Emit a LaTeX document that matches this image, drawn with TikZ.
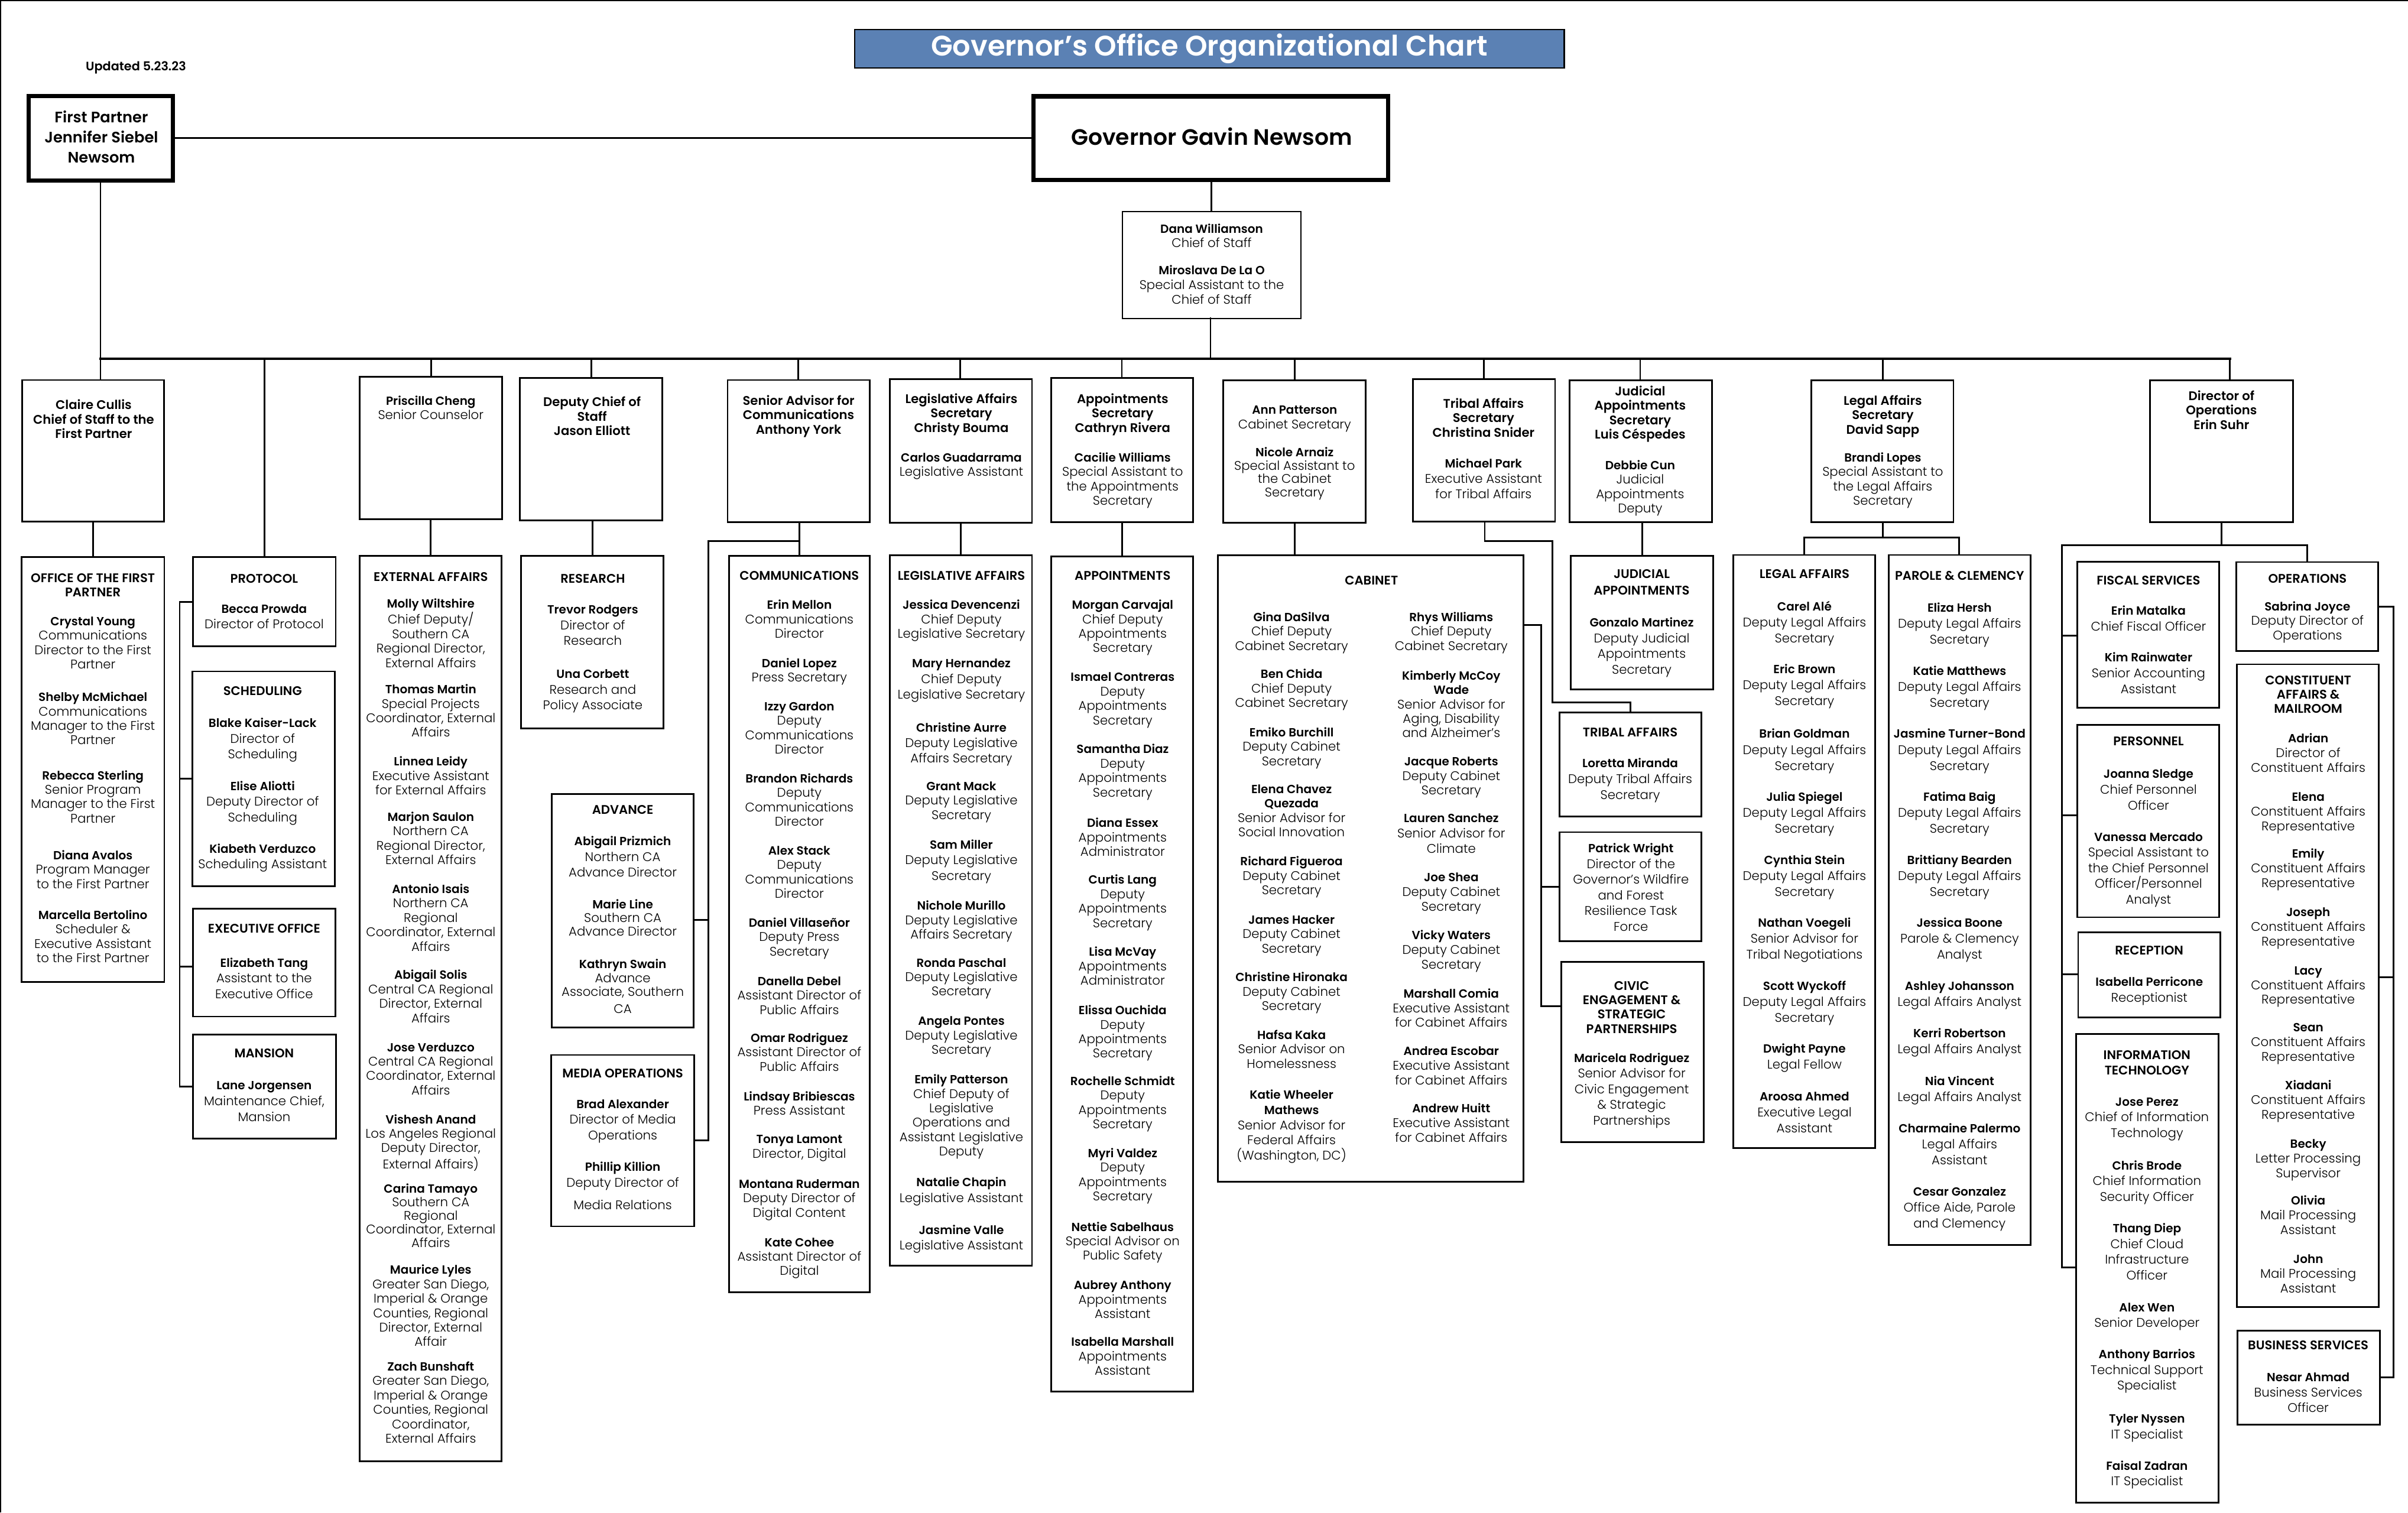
\documentclass[tikz,border=0pt]{standalone}
\usepackage{fontspec}
\setmainfont{Poppins}
\newfontfamily\lightf{Poppins Light}
\newfontfamily\boldf{Poppins SemiBold}
\definecolor{titleblue}{HTML}{5B81B4}
\newcounter{tn}
\newcommand{\bodyfs}{8.2}
\newcommand{\bn}[1]{{\boldf\fontsize{7.7}{\the\baselineskip}\selectfont #1}}
\newcommand{\pers}[5][9.4]{\stepcounter{tn}\node[txt=#1] (t\arabic{tn}) at (#2,#3) {\rule{0pt}{7pt}\bn{#4}\\#5};}
\newcommand{\hdg}[4][9.4]{\stepcounter{tn}\node[txtb=#1] (t\arabic{tn}) at (#2,#3) {\rule{0pt}{7pt}#4};}
\newcommand{\bx}[6][boxn]{\node[#1,minimum width={(#5-#3)*1pt},minimum height={(#6-#4)*1pt}] (#2) at (#3,#4) {};}
\newcommand{\vconn}[4][conn]{\coordinate (tmpc) at (#2,0);\draw[#1] (#3 -| tmpc) -- (#4 -| tmpc);}
\newcommand{\hconn}[4][conn]{\coordinate (tmpc) at (0,#2);\draw[#1] (#3 |- tmpc) -- (#4 |- tmpc);}
\tikzset{
 boxn/.style={draw=black,fill=white,line width=1.1pt,rectangle,anchor=north west,inner sep=0pt,outer sep=0pt},
 boxthin/.style={boxn,line width=0.9pt},
 boxthick/.style={boxn,line width=2.8pt},
 conn/.style={draw=black,line width=1.1pt,line cap=rect},
 connthin/.style={draw=black,line width=0.8pt},
 txt/.style={anchor=north,inner sep=0pt,outer sep=0pt,align=center,yshift=4.3pt,font=\lightf\fontsize{\bodyfs}{#1}\selectfont},
 txtb/.style={anchor=north,inner sep=0pt,outer sep=0pt,align=center,yshift=4.3pt,font=\boldf\fontsize{8.15}{#1}\selectfont},
}
\begin{document}
\begin{tikzpicture}[x=1pt,y=-1pt]
\useasboundingbox (0,0) rectangle (1568,984.95);
\coordinate (frameTL) at (0.4,0.4);
\coordinate (frameTR) at (1568,0.4);
\coordinate (frameBL) at (0.4,984.95);
\draw[line width=0.9pt] (frameBL) -- (frameTL) -- (frameTR);

% ---------- boxes ----------
\node[draw=black,line width=1pt,fill=titleblue,rectangle,anchor=north west,inner sep=0pt,outer sep=0pt,minimum width=462pt,minimum height=25pt,text=white,font=\boldf\fontsize{18.4}{20}\selectfont] (title) at (556.5,19.3) {Governor’s Office Organizational Chart};
\node[anchor=center,inner sep=0pt,font=\boldf\fontsize{8}{9}\selectfont] (upd) at (88.5,44.2) {Updated 5.23.23};
\bx[boxthick]{partner}{18.8}{62.5}{112.7}{117.6}
\bx[boxthick]{gov}{673}{62.7}{904}{117.3}
\bx[boxthin]{cos}{731}{137.9}{847}{207.4}
\bx{claire}{14.4}{247.5}{106.8}{339.8}
\bx{priscilla}{234.3}{245.5}{326.8}{338}
\bx{dcos}{338.5}{246.2}{431.3}{339}
\bx{senior}{473.8}{247.5}{566.2}{340.2}
\bx{legsec}{579.4}{246.8}{672}{340.5}
\bx{appsec}{684.4}{246.2}{777}{340}
\bx{ann}{796.6}{247.8}{889.3}{340.5}
\bx{tribsec}{920}{247}{1012.6}{339.8}
\bx{judsec}{1022}{247.6}{1114.7}{340}
\bx{legalsec}{1179.4}{247.6}{1272}{340}
\bx{director}{1400}{247.6}{1493}{340}

\bx{ofp}{14.1}{362.9}{107}{639.4}
\bx{protocol}{125.8}{362.9}{218.6}{420.7}
\bx{sched}{125.2}{437.2}{218}{577.2}
\bx{execo}{125.5}{591.8}{218.3}{662}
\bx{mansion}{125.8}{673.6}{218.8}{741.5}
\bx{external}{234.2}{362}{326.7}{951.5}
\bx{research}{339.3}{362}{432.1}{474.2}
\bx{advance}{359.4}{517}{451.6}{669}
\bx{media}{359}{687}{452}{798.6}
\bx{comm}{474.6}{362}{566.4}{841.4}
\bx{legis}{579.4}{361.6}{672}{824.3}
\bx{appts}{684.4}{362.5}{777}{906.2}
\bx{cabinet}{793}{361.7}{992}{769.5}
\bx{judapp}{1022.8}{362.1}{1115.4}{449.1}
\bx{tribal}{1015.5}{464}{1108}{531.6}
\bx{wright}{1015.5}{541.9}{1108}{612.9}
\bx{civic}{1016.5}{626.3}{1109.3}{743.9}
\bx{legal}{1128.6}{361.4}{1221}{747.7}
\bx{parole}{1229.8}{361.4}{1322.2}{810.8}
\bx{fiscal}{1352.6}{365.7}{1445}{460.9}
\bx{personnel}{1352.6}{471.9}{1445}{597.3}
\bx{reception}{1353.2}{607}{1445.8}{662.4}
\bx{ittech}{1351.8}{673.3}{1444.6}{978.4}
\bx{operations}{1456.3}{366}{1548.7}{424}
\bx{constit}{1456.6}{432.6}{1549}{851.3}
\bx{business}{1456.8}{866.4}{1549.6}{927.9}

% ---------- connectors ----------
\hconn{89.8}{partner.east}{gov.west}
\vconn[connthin]{788.8}{gov.south}{cos.north}
\coordinate (busL) at (65.4,233.5);
\coordinate (busR) at (1452,233.5);
\draw[conn,line width=1.5pt] (busL) -- (busR);
\vconn{788.2}{cos.south}{busR}
\vconn[connthin]{65.4}{partner.south}{claire.north}
\vconn[conn]{280.8}{busL}{priscilla.north}
\vconn[conn]{385.2}{busL}{dcos.north}
\vconn[conn]{519.8}{busL}{senior.north}
\vconn[conn]{625.3}{busL}{legsec.north}
\vconn[conn]{730.5}{busL}{appsec.north}
\vconn[conn]{843.2}{busL}{ann.north}
\vconn[conn]{966.2}{busL}{tribsec.north}
\vconn[conn]{1068}{busL}{judsec.north}
\vconn[conn]{1226}{busL}{legalsec.north}
\vconn[conn]{1452}{busL}{director.north}
\vconn[conn]{172.3}{busL}{protocol.north}

\vconn{60.5}{claire.south}{ofp.north}
\vconn{280.4}{priscilla.south}{external.north}
\vconn{385.9}{dcos.south}{research.north}
\vconn{520.5}{senior.south}{comm.north}
\vconn{625.6}{legsec.south}{legis.north}
\vconn{730.6}{appsec.south}{appts.north}
\vconn{843.2}{ann.south}{cabinet.north}
\vconn{1069.3}{judsec.south}{judapp.north}

% protocol spine
\coordinate (spA) at (117,391.9);
\coordinate (spB) at (117,707.7);
\draw[conn] (spA) -- (spB);
\hconn{391.9}{spA}{protocol.west}
\hconn{507}{spA}{sched.west}
\hconn{629.4}{spA}{execo.west}
\hconn{707.7}{spA}{mansion.west}

% communications spine
\coordinate (cmA) at (520.5,352.3);
\coordinate (cmB) at (461.3,352.3);
\coordinate (cmC) at (461.3,742.5);
\draw[conn] (cmA) -- (cmB) -- (cmC);
\hconn{598.9}{advance.east}{cmC}
\hconn{742.5}{media.east}{cmC}

% tribal elbow
\coordinate (trA) at (966.8,352.2);
\coordinate (trB) at (1010.8,352.2);
\coordinate (trC) at (1010.8,457.3);
\coordinate (trD) at (1061.6,457.3);
\draw[conn] (tribsec.south -| trA) -- (trA) -- (trB) -- (trC) -- (trD) -- (tribal.north -| trD);

% cabinet spine
\coordinate (cbA) at (1003.7,407.1);
\coordinate (cbB) at (1003.7,655.3);
\draw[conn] (cabinet.east |- cbA) -- (cbA) -- (cbB) -- (civic.west |- cbB);
\hconn{577.6}{cbA}{wright.west}

% legal split
\coordinate (lgM) at (1226,350);
\coordinate (lgL) at (1174.8,350);
\coordinate (lgR) at (1275.8,350);
\draw[conn] (legalsec.south -| lgM) -- (lgM);
\draw[conn] (legal.north -| lgL) -- (lgL) -- (lgR) -- (parole.north -| lgR);

% operations split
\coordinate (opM) at (1446.5,355);
\coordinate (opL) at (1342.7,355);
\coordinate (opR) at (1502.5,355);
\coordinate (opB) at (1342.7,825.4);
\draw[conn] (director.south -| opM) -- (opM);
\draw[conn] (opB) -- (opL) -- (opR) -- (operations.north -| opR);
\hconn{413.8}{opL}{fiscal.west}
\hconn{530.8}{opL}{personnel.west}
\hconn{634.5}{opL}{reception.west}
\hconn{825.4}{opL}{ittech.west}

% right spine
\coordinate (rsA) at (1558.6,395);
\coordinate (rsB) at (1558.6,897);
\draw[conn] (operations.east |- rsA) -- (rsA) -- (rsB) -- (business.east |- rsB);
\hconn{636.4}{constit.east}{rsA}

% ---------- top texts ----------
\node[anchor=north,inner sep=0pt,align=center,yshift=5.3pt,font=\boldf\fontsize{9.9}{13}\selectfont] (partnert) at (66,76) {\rule{0pt}{9pt}First Partner\\Jennifer Siebel\\Newsom};
\node[anchor=center,inner sep=0pt,font=\boldf\fontsize{14.5}{16}\selectfont] (govt) at (789,89) {Governor Gavin Newsom};
\pers{789}{149}{Dana Williamson}{Chief of Staff}
\pers[9.6]{789}{176}{Miroslava De La O}{Special Assistant to the\\Chief of Staff}
\hdg{61}{264}{Claire Cullis\\Chief of Staff to the\\First Partner}
\pers{280.5}{261}{Priscilla Cheng}{Senior Counselor}
\hdg{385.5}{262}{Deputy Chief of\\Staff\\Jason Elliott}
\hdg{520}{261}{Senior Advisor for\\Communications\\Anthony York}
\hdg{626}{260}{Legislative Affairs\\Secretary\\Christy Bouma}
\pers{626}{298}{Carlos Guadarrama}{Legislative Assistant}
\hdg{731}{260}{Appointments\\Secretary\\Cathryn Rivera}
\pers{731}{298}{Cacilie Williams}{Special Assistant to\\the Appointments\\Secretary}
\pers{843}{267}{Ann Patterson}{Cabinet Secretary}
\pers[8.7]{843}{294.6}{Nicole Arnaiz}{Special Assistant to\\the Cabinet\\Secretary}
\hdg{966}{263}{Tribal Affairs\\Secretary\\Christina Snider}
\pers[10]{966}{302}{Michael Park}{Executive Assistant\\for Tribal Affairs}
\hdg{1068}{255}{Judicial\\Appointments\\Secretary\\Luis Céspedes}
\pers{1068}{303}{Debbie Cun}{Judicial\\Appointments\\Deputy}
\hdg{1226}{261}{Legal Affairs\\Secretary\\David Sapp}
\pers{1226}{298}{Brandi Lopes}{Special Assistant to\\the Legal Affairs\\Secretary}
\hdg{1446.5}{258}{Director of\\Operations\\Erin Suhr}

% ---------- first partner ----------
\hdg{60.5}{376.6}{OFFICE OF THE FIRST\\PARTNER}
\pers{60.5}{404.6}{Crystal Young}{Communications\\Director to the First\\Partner}
\pers{60.5}{454}{Shelby McMichael}{Communications\\Manager to the First\\Partner}
\pers{60.5}{505}{Rebecca Sterling}{Senior Program\\Manager to the First\\Partner}
\pers{60.5}{557}{Diana Avalos}{Program Manager\\to the First Partner}
\pers{60.5}{596}{Marcella Bertolino}{Scheduler \&\\Executive Assistant\\to the First Partner}

\hdg{172}{377}{PROTOCOL}
\pers[10]{172}{396.5}{Becca Prowda}{Director of Protocol}
\hdg{171}{450}{SCHEDULING}
\pers[10.2]{171}{471}{Blake Kaiser-Lack}{Director of\\Scheduling}
\pers[10.2]{171}{512}{Elise Aliotti}{Deputy Director of\\Scheduling}
\pers[10]{171}{553}{Kiabeth Verduzco}{Scheduling Assistant}
\hdg{172}{605}{EXECUTIVE OFFICE}
\pers[10.2]{172}{627}{Elizabeth Tang}{Assistant to the\\Executive Office}
\hdg{172}{686}{MANSION}
\pers[10.3]{172}{707}{Lane Jorgensen}{Maintenance Chief,\\Mansion}

% ---------- external affairs ----------
\hdg{280.5}{376}{EXTERNAL AFFAIRS}
\pers{280.5}{393}{Molly Wiltshire}{Chief Deputy/\\Southern CA\\Regional Director,\\External Affairs}
\pers{280.5}{449}{Thomas Martin}{Special Projects\\Coordinator, External\\Affairs}
\pers{280.5}{496}{Linnea Leidy}{Executive Assistant\\for External Affairs}
\pers{280.5}{532}{Marjon Saulon}{Northern CA\\Regional Director,\\External Affairs}
\pers{280.5}{579}{Antonio Isais}{Northern CA\\Regional\\Coordinator, External\\Affairs}
\pers{280.5}{635}{Abigail Solis}{Central CA Regional\\Director, External\\Affairs}
\pers{280.5}{682}{Jose Verduzco}{Central CA Regional\\Coordinator, External\\Affairs}
\pers{280.5}{729}{Vishesh Anand}{Los Angeles Regional\\Deputy Director,\\External Affairs)}
\pers[8.9]{280.5}{774}{Carina Tamayo}{Southern CA\\Regional\\Coordinator, External\\Affairs}
\pers{280.5}{827}{Maurice Lyles}{Greater San Diego,\\Imperial \& Orange\\Counties, Regional\\Director, External\\Affair}
\pers{280.5}{890}{Zach Bunshaft}{Greater San Diego,\\Imperial \& Orange\\Counties, Regional\\Coordinator,\\External Affairs}

% ---------- research, advance, media ----------
\hdg{386}{377}{RESEARCH}
\pers[10.2]{386}{397}{Trevor Rodgers}{Director of\\Research}
\pers[10.2]{386}{439}{Una Corbett}{Research and\\Policy Associate}
\hdg{405.5}{527.5}{ADVANCE}
\pers[10.2]{405.5}{548}{Abigail Prizmich}{Northern CA\\Advance Director}
\pers[8.9]{405.5}{589}{Marie Line}{Southern CA\\Advance Director}
\pers[9]{405.5}{628}{Kathryn Swain}{Advance\\Associate, Southern}
\node[txt=9.4] (kswainCA) at (405.5,657) {\rule{0pt}{7pt}CA};
\hdg{405.5}{699}{MEDIA OPERATIONS}
\pers[10.2]{405.5}{719}{Brad Alexander}{Director of Media\\Operations}
\pers[10.3]{405.5}{760}{Phillip Killion}{Deputy Director of}
\node[txt=9.4] (pkillion) at (405.5,785) {\rule{0pt}{7pt}Media Relations};

% ---------- communications ----------
\hdg{520.5}{375}{COMMUNICATIONS}
\pers{520.5}{394}{Erin Mellon}{Communications\\Director}
\pers{520.5}{432}{Daniel Lopez}{Press Secretary}
\pers{520.5}{460}{Izzy Gardon}{Deputy\\Communications\\Director}
\pers{520.5}{507}{Brandon Richards}{Deputy\\Communications\\Director}
\pers{520.5}{554}{Alex Stack}{Deputy\\Communications\\Director}
\pers{520.5}{601}{Daniel Villaseñor}{Deputy Press\\Secretary}
\pers{520.5}{639}{Danella Debel}{Assistant Director of\\Public Affairs}
\pers{520.5}{676}{Omar Rodriguez}{Assistant Director of\\Public Affairs}
\pers{520.5}{714}{Lindsay Bribiescas}{Press Assistant}
\pers{520.5}{742}{Tonya Lamont}{Director, Digital}
\pers{520.5}{771}{Montana Ruderman}{Deputy Director of\\Digital Content}
\pers{520.5}{809}{Kate Cohee}{Assistant Director of\\Digital}

% ---------- legislative ----------
\hdg{626}{375}{LEGISLATIVE AFFAIRS}
\pers{626}{394}{Jessica Devencenzi}{Chief Deputy\\Legislative Secretary}
\pers[10.3]{626}{432}{Mary Hernandez}{Chief Deputy\\Legislative Secretary}
\pers[10]{626}{474}{Christine Aurre}{Deputy Legislative\\Affairs Secretary}
\pers{626}{512}{Grant Mack}{Deputy Legislative\\Secretary}
\pers[10.2]{626}{550}{Sam Miller}{Deputy Legislative\\Secretary}
\pers{626}{590}{Nichole Murillo}{Deputy Legislative\\Affairs Secretary}
\pers{626}{627}{Ronda Paschal}{Deputy Legislative\\Secretary}
\pers{626}{665}{Angela Pontes}{Deputy Legislative\\Secretary}
\pers{626}{703}{Emily Patterson}{Chief Deputy of\\Legislative\\Operations and\\Assistant Legislative\\Deputy}
\pers[10.2]{626}{770}{Natalie Chapin}{Legislative Assistant}
\pers[10]{626}{801}{Jasmine Valle}{Legislative Assistant}

% ---------- appointments ----------
\hdg{731}{375}{APPOINTMENTS}
\pers{731}{394}{Morgan Carvajal}{Chief Deputy\\Appointments\\Secretary}
\pers{731}{441}{Ismael Contreras}{Deputy\\Appointments\\Secretary}
\pers{731}{488}{Samantha Diaz}{Deputy\\Appointments\\Secretary}
\pers{731}{536}{Diana Essex}{Appointments\\Administrator}
\pers{731}{573}{Curtis Lang}{Deputy\\Appointments\\Secretary}
\pers{731}{620}{Lisa McVay}{Appointments\\Administrator}
\pers{731}{658}{Elissa Ouchida}{Deputy\\Appointments\\Secretary}
\pers{731}{704}{Rochelle Schmidt}{Deputy\\Appointments\\Secretary}
\pers{731}{751}{Myri Valdez}{Deputy\\Appointments\\Secretary}
\pers{731}{799}{Nettie Sabelhaus}{Special Advisor on\\Public Safety}
\pers{731}{837}{Aubrey Anthony}{Appointments\\Assistant}
\pers{731}{874}{Isabella Marshall}{Appointments\\Assistant}

% ---------- cabinet ----------
\hdg{893}{378}{CABINET}
\pers{841}{402}{Gina DaSilva}{Chief Deputy\\Cabinet Secretary}
\pers{841}{439}{Ben Chida}{Chief Deputy\\Cabinet Secretary}
\pers{841}{477}{Emiko Burchill}{Deputy Cabinet\\Secretary}
\pers{841}{514}{Elena Chavez}{\bn{Quezada}\\Senior Advisor for\\Social Innovation}
\pers{841}{561}{Richard Figueroa}{Deputy Cabinet\\Secretary}
\pers{841}{599}{James Hacker}{Deputy Cabinet\\Secretary}
\pers{841}{636.5}{Christine Hironaka}{Deputy Cabinet\\Secretary}
\pers{841}{674}{Hafsa Kaka}{Senior Advisor on\\Homelessness}
\pers[9.9]{841}{713}{Katie Wheeler}{\bn{Mathews}\\Senior Advisor for\\Federal Affairs\\(Washington, DC)}
\pers{945}{402}{Rhys Williams}{Chief Deputy\\Cabinet Secretary}
\pers{945}{440}{Kimberly McCoy}{\bn{Wade}\\Senior Advisor for\\Aging, Disability\\and Alzheimer’s}
\pers{945}{496}{Jacque Roberts}{Deputy Cabinet\\Secretary}
\pers[10]{945}{533}{Lauren Sanchez}{Senior Advisor for\\Climate}
\pers[9.6]{945}{571.4}{Joe Shea}{Deputy Cabinet\\Secretary}
\pers[9.6]{945}{609}{Vicky Waters}{Deputy Cabinet\\Secretary}
\pers[9.6]{945}{647}{Marshall Comia}{Executive Assistant\\for Cabinet Affairs}
\pers[9.6]{945}{684.5}{Andrea Escobar}{Executive Assistant\\for Cabinet Affairs}
\pers[9.6]{945}{722}{Andrew Huitt}{Executive Assistant\\for Cabinet Affairs}

% ---------- judicial, tribal, wright, civic ----------
\hdg[10.6]{1069}{374}{JUDICIAL\\APPOINTMENTS}
\pers[10.2]{1069}{405.5}{Gonzalo Martinez}{Deputy Judicial\\Appointments\\Secretary}
\hdg{1061.5}{477}{TRIBAL AFFAIRS}
\pers[10.4]{1061.5}{497}{Loretta Miranda}{Deputy Tribal Affairs\\Secretary}
\pers[10.2]{1062}{552.5}{Patrick Wright}{Director of the\\Governor’s Wildfire\\and Forest\\Resilience Task\\Force}
\hdg{1062.5}{642}{CIVIC\\ENGAGEMENT \&\\STRATEGIC\\PARTNERSHIPS}
\pers[10.2]{1062.5}{689}{Maricela Rodriguez}{Senior Advisor for\\Civic Engagement\\\& Strategic\\Partnerships}

% ---------- legal, parole ----------
\hdg{1175}{374}{LEGAL AFFAIRS}
\pers[10.4]{1175}{395}{Carel Alé}{Deputy Legal Affairs\\Secretary}
\pers[10.4]{1175}{436}{Eric Brown}{Deputy Legal Affairs\\Secretary}
\pers[10.4]{1175}{478}{Brian Goldman}{Deputy Legal Affairs\\Secretary}
\pers[10.4]{1175}{519}{Julia Spiegel}{Deputy Legal Affairs\\Secretary}
\pers[10.4]{1175}{560}{Cynthia Stein}{Deputy Legal Affairs\\Secretary}
\pers[10.4]{1175}{601}{Nathan Voegeli}{Senior Advisor for\\Tribal Negotiations}
\pers[10.4]{1175}{642}{Scott Wyckoff}{Deputy Legal Affairs\\Secretary}
\pers[10.4]{1175}{683}{Dwight Payne}{Legal Fellow}
\pers[10.4]{1175}{714}{Aroosa Ahmed}{Executive Legal\\Assistant}
\hdg{1276}{375}{PAROLE \& CLEMENCY}
\pers[10.4]{1276}{396}{Eliza Hersh}{Deputy Legal Affairs\\Secretary}
\pers[10.4]{1276}{437}{Katie Matthews}{Deputy Legal Affairs\\Secretary}
\pers[10.4]{1276}{478}{Jasmine Turner-Bond}{Deputy Legal Affairs\\Secretary}
\pers[10.4]{1276}{519}{Fatima Baig}{Deputy Legal Affairs\\Secretary}
\pers[10.4]{1276}{560}{Brittiany Bearden}{Deputy Legal Affairs\\Secretary}
\pers[10.4]{1276}{601}{Jessica Boone}{Parole \& Clemency\\Analyst}
\pers[10.4]{1276}{642}{Ashley Johansson}{Legal Affairs Analyst}
\pers[10.4]{1276}{673}{Kerri Robertson}{Legal Affairs Analyst}
\pers[10.4]{1276}{704}{Nia Vincent}{Legal Affairs Analyst}
\pers[10.4]{1276}{735}{Charmaine Palermo}{Legal Affairs\\Assistant}
\pers[10.4]{1276}{776}{Cesar Gonzalez}{Office Aide, Parole\\and Clemency}

% ---------- operations left ----------
\hdg{1399}{378}{FISCAL SERVICES}
\pers[10.4]{1399}{397.6}{Erin Matalka}{Chief Fiscal Officer}
\pers[10.4]{1399}{428}{Kim Rainwater}{Senior Accounting\\Assistant}
\hdg{1399}{483}{PERSONNEL}
\pers[10.4]{1399}{504}{Joanna Sledge}{Chief Personnel\\Officer}
\pers[10.2]{1399}{545}{Vanessa Mercado}{Special Assistant to\\the Chief Personnel\\Officer/Personnel\\Analyst}
\hdg{1399.5}{619}{RECEPTION}
\pers[10.5]{1399.5}{639.5}{Isabella Perricone}{Receptionist}
\hdg[10.2]{1398}{687}{INFORMATION\\TECHNOLOGY}
\pers[10.2]{1398}{717.5}{Jose Perez}{Chief of Information\\Technology}
\pers[10.2]{1398}{759}{Chris Brode}{Chief Information\\Security Officer}
\pers[10.2]{1398}{800}{Thang Diep}{Chief Cloud\\Infrastructure\\Officer}
\pers[10.2]{1398}{851.5}{Alex Wen}{Senior Developer}
\pers[10.2]{1398}{882}{Anthony Barrios}{Technical Support\\Specialist}
\pers[10.2]{1398}{924}{Tyler Nyssen}{IT Specialist}
\pers[10.2]{1398}{954.5}{Faisal Zadran}{IT Specialist}

% ---------- operations right ----------
\hdg{1502.5}{377}{OPERATIONS}
\pers{1502.5}{395}{Sabrina Joyce}{Deputy Director of\\Operations}
\hdg{1503}{443}{CONSTITUENT\\AFFAIRS \&\\MAILROOM}
\pers[9.6]{1503}{481}{Adrian}{Director of\\Constituent Affairs}
\pers[9.6]{1503}{519}{Elena}{Constituent Affairs\\Representative}
\pers[9.6]{1503}{556}{Emily}{Constituent Affairs\\Representative}
\pers[9.6]{1503}{594}{Joseph}{Constituent Affairs\\Representative}
\pers[9.6]{1503}{632}{Lacy}{Constituent Affairs\\Representative}
\pers[9.6]{1503}{669}{Sean}{Constituent Affairs\\Representative}
\pers[9.6]{1503}{707}{Xiadani}{Constituent Affairs\\Representative}
\pers[9.6]{1503}{745}{Becky}{Letter Processing\\Supervisor}
\pers[9.6]{1503}{782}{Olivia}{Mail Processing\\Assistant}
\pers[9.6]{1503}{820}{John}{Mail Processing\\Assistant}
\hdg{1503}{876}{BUSINESS SERVICES}
\pers[10]{1503}{897}{Nesar Ahmad}{Business Services\\Officer}
\end{tikzpicture}
\end{document}
